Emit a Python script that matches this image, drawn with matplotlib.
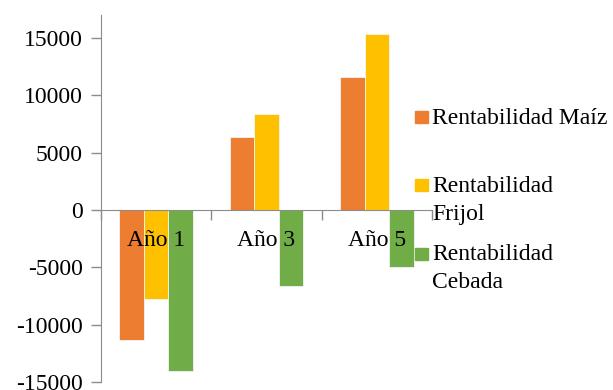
import matplotlib
matplotlib.use("Agg")
import matplotlib.pyplot as plt
from matplotlib.patches import Rectangle
import numpy as np

categories = ["Año 1", "Año 3", "Año 5"]
series_labels = ["Rentabilidad Maíz", "Rentabilidad\nFrijol", "Rentabilidad\nCebada"]
maiz = [-11300, 6400, 11600]
frijol = [-7800, 8400, 15300]
cebada = [-14000, -6600, -5000]
yticks = [-15000, -10000, -5000, 0, 5000, 10000, 15000]

colors = ["#ED7D31", "#FFC000", "#70AD47"]
series = [maiz, frijol, cebada]

plt.rcParams["font.family"] = ["Liberation Serif", "DejaVu Serif"]
FS = 17

fig = plt.figure(figsize=(6.13, 3.90), dpi=100)
ax = fig.add_axes([101 / 613, 1 - 382 / 390, (432 - 101) / 613, (382 - 15) / 390])

x = np.arange(len(categories))
w = 1 / 4.5
for k, (vals, c) in enumerate(zip(series, colors)):
    ax.bar(x + (k - 1) * w, vals, width=w, color=c, edgecolor="#f4f4f4",
           linewidth=0.6, zorder=2)

ax.set_xlim(-0.5, len(categories) - 0.5)
ax.set_ylim(-15000, 17000)
ax.set_yticks(yticks)
ax.set_yticklabels([str(v) for v in yticks], fontsize=FS)
ax.set_xticks(np.arange(len(categories) + 1) - 0.5)
ax.set_xticklabels([])

axis_color = "#8c8c8c"
for s in ["top", "right"]:
    ax.spines[s].set_visible(False)
ax.spines["bottom"].set_position(("data", 0))
ax.spines["bottom"].set_color(axis_color)
ax.spines["left"].set_color(axis_color)
ax.spines["bottom"].set_zorder(3)
ax.tick_params(axis="both", colors=axis_color, length=7, width=1, labelcolor="black")
ax.tick_params(axis="y", pad=6)

for i, cat in enumerate(categories):
    ax.annotate(cat, xy=(i, 0), xytext=(0, -31), textcoords="offset pixels",
                ha="center", va="center", fontsize=FS, zorder=4)

# legend on the right
leg_x = 415 / 613
txt_x = 432 / 613
leg_y = [117, 185, 254]
for lab, c, yy in zip(series_labels, colors, leg_y):
    fig.patches.append(Rectangle((leg_x, 1 - (yy + 6) / 390), 13 / 613, 12 / 390,
                                 transform=fig.transFigure, color=c))
    for j, line in enumerate(lab.split("\n")):
        fig.text(txt_x, 1 - (yy + 1 + 28 * j) / 390, line, ha="left", va="center",
                 fontsize=FS)

fig.savefig("out.png", dpi=100)
